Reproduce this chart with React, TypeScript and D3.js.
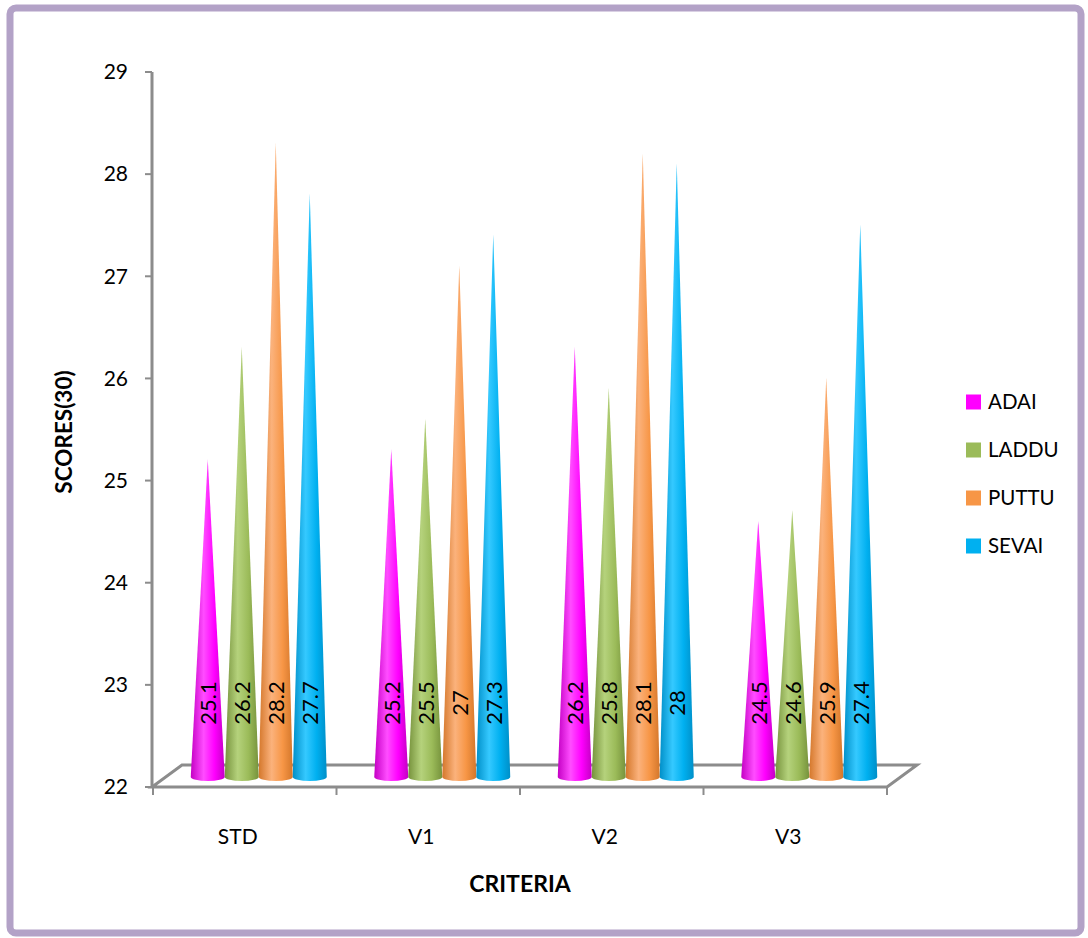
import * as d3 from 'd3';

const categories = ['STD', 'V1', 'V2', 'V3'];
const seriesNames = ['ADAI', 'LADDU', 'PUTTU', 'SEVAI'];
const adai = [25.1, 25.2, 26.2, 24.5];
const laddu = [26.2, 25.5, 25.8, 24.6];
const puttu = [28.2, 27, 28.1, 25.9];
const sevai = [27.7, 27.3, 28, 27.4];
const yTicks = [22, 23, 24, 25, 26, 27, 28, 29];

const seriesValues = [adai, laddu, puttu, sevai];

// base / dark / light shades for the cone gradients
const colors = [
  { base: '#ff00ff', dark: '#c400c4', light: '#ff4dff' },
  { base: '#9bbb59', dark: '#76923c', light: '#b5d27c' },
  { base: '#f79646', dark: '#d4772b', light: '#fbb27c' },
  { base: '#00b0f0', dark: '#008fc8', light: '#35c9ff' },
];

const FONT = 'Lato, "Open Sans", sans-serif';

const App = () => {
  const width = 1088;
  const height = 938;

  const y = d3.scaleLinear().domain([22, 29]).range([787, 72]);
  const x = d3.scaleBand().domain(categories).range([153, 887]);
  const bw = x.bandwidth();
  const inner = d3.scaleBand().domain(seriesNames).range([bw / 2 - 68, bw / 2 + 68]);

  // depth shift of the 3D floor
  const depthX = 30;
  const depthY = -22;
  const coneDx = 14;
  const coneDy = -11;
  const baseY = 777;
  const r = 17;

  const axisColor = '#8c8c8c';
  const floorLeft = x.range()[0] - 1;
  const floorRight = x.range()[1];
  const floorY = y(22);

  return (
    <svg width={width} height={height} style={{ position: 'absolute', left: 0, top: 0, background: '#fff' }}>
      <defs>
        {colors.map((c, i) => (
          <linearGradient key={i} id={`cone${i}`} x1="0" x2="1" y1="0" y2="0">
            <stop offset="0" stopColor={c.dark} />
            <stop offset="0.38" stopColor={c.light} />
            <stop offset="0.7" stopColor={c.base} />
            <stop offset="1" stopColor={c.dark} />
          </linearGradient>
        ))}
      </defs>

      {/* outer frame */}
      <rect x={10} y={8} width={1071} height={925} rx={6} fill="none" stroke="#b3a2c7" strokeWidth={7} />

      {/* y axis */}
      <line x1={floorLeft} x2={floorLeft} y1={y(29)} y2={floorY} stroke={axisColor} strokeWidth={3} />
      {yTicks.map(t => (
        <g key={t}>
          <line x1={floorLeft - 7} x2={floorLeft} y1={y(t)} y2={y(t)} stroke={axisColor} strokeWidth={2} />
          <text x={128} y={y(t)} dy="0.35em" textAnchor="end" fontFamily={FONT} fontSize={21}>{t}</text>
        </g>
      ))}

      {/* floor */}
      <path
        d={`M${floorLeft},${floorY} L${floorRight},${floorY} L${floorRight + depthX},${floorY + depthY} L${floorLeft + depthX},${floorY + depthY} Z`}
        fill="#fff" stroke={axisColor} strokeWidth={3} strokeLinejoin="miter" />
      {[...categories.map(c => x(c) as number), floorRight].map((t, i) => (
        <line key={i} x1={t} x2={t} y1={floorY} y2={floorY + 8} stroke={axisColor} strokeWidth={2} />
      ))}

      {/* cones */}
      {categories.map((c, ci) => (
        <g key={c}>
          {seriesNames.map((s, si) => {
            const v = seriesValues[si][ci];
            const cx = (x(c) as number) + (inner(s) as number) + inner.bandwidth() / 2 + coneDx;
            const tip = y(v) + coneDy;
            return (
              <g key={s}>
                <path
                  d={`M${cx - r},${baseY} L${cx},${tip} L${cx + r},${baseY} A${r},4 0 0 1 ${cx - r},${baseY} Z`}
                  fill={`url(#cone${si})`} />
                <text transform={`translate(${cx + 1},703) rotate(-90)`} dy="0.35em" textAnchor="middle"
                  fontFamily={FONT} fontSize={22}>{v}</text>
              </g>
            );
          })}
        </g>
      ))}

      {/* category labels */}
      {categories.map(c => (
        <text key={c} x={(x(c) as number) + bw / 2 - 7} y={837} dy="0.35em" textAnchor="middle"
          fontFamily={FONT} fontSize={21}>{c}</text>
      ))}

      {/* axis titles */}
      <text x={520} y={884} dy="0.35em" textAnchor="middle" fontFamily={FONT} fontSize={23} fontWeight="bold">CRITERIA</text>
      <text transform="translate(64,432) rotate(-90)" dy="0.35em" textAnchor="middle" fontFamily={FONT}
        fontSize={22.5} fontWeight="bold">SCORES(30)</text>

      {/* legend */}
      {seriesNames.map((s, i) => (
        <g key={s} transform={`translate(966,${402 + i * 48})`}>
          <rect x={0} y={-7.5} width={15} height={15} fill={colors[i].base} />
          <text x={22} y={0} dy="0.35em" fontFamily={FONT} fontSize={20.5}>{s}</text>
        </g>
      ))}
    </svg>
  );
};

export default App;
